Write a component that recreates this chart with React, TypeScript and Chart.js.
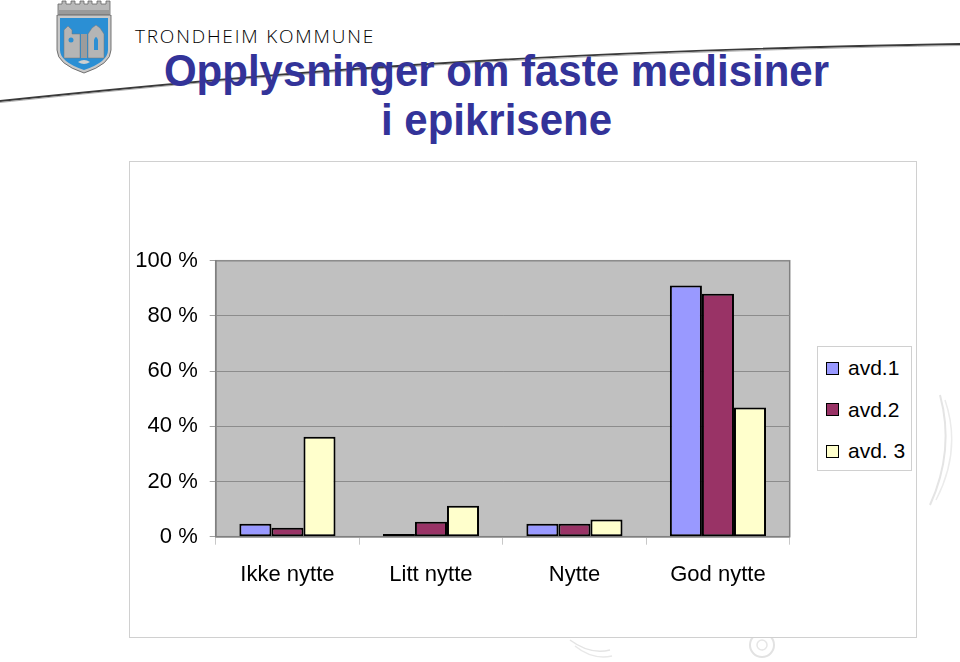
import React, { useEffect, useRef } from "react";
import { Chart, registerables } from "chart.js";

Chart.register(...registerables);

const categories = ["Ikke nytte", "Litt nytte", "Nytte", "God nytte"];
const seriesNames = ["avd.1", "avd.2", "avd. 3"];
const avd1 = [4.7, 1.0, 4.7, 91];
const avd2 = [3.2, 5.4, 4.7, 88];
const avd3 = [36.2, 11.2, 6.2, 46.8];
const yTicks = [0, 20, 40, 60, 80, 100];
const seriesColors = ["#9999FF", "#993366", "#FFFFCC"];

const FONT = '"Liberation Sans", Arial, Helvetica, sans-serif';

const plotBg = {
  id: "plotBg",
  beforeDraw(chart: any) {
    const { ctx, chartArea } = chart;
    if (!chartArea) return;
    ctx.save();
    ctx.fillStyle = "#C0C0C0";
    ctx.fillRect(chartArea.left, chartArea.top, chartArea.right - chartArea.left, chartArea.bottom - chartArea.top);
    ctx.strokeStyle = "#808080";
    ctx.lineWidth = 1.5;
    ctx.strokeRect(chartArea.left, chartArea.top, chartArea.right - chartArea.left, chartArea.bottom - chartArea.top);
    ctx.restore();
  },
};

function BarChart() {
  const ref = useRef<HTMLCanvasElement | null>(null);
  useEffect(() => {
    if (!ref.current) return;
    const series = [avd1, avd2, avd3];
    const chart = new Chart(ref.current, {
      type: "bar",
      data: {
        labels: categories,
        datasets: seriesNames.map((name, i) => ({
          label: name,
          data: series[i],
          backgroundColor: seriesColors[i],
          borderColor: "#000000",
          borderWidth: 2,
          borderSkipped: false,
          barPercentage: 1,
          categoryPercentage: 0.67,
        })),
      },
      options: {
        animation: false,
        responsive: false,
        maintainAspectRatio: false,
        layout: { padding: { top: 98.7, right: 126.3, left: 0, bottom: 0 } },
        plugins: {
          legend: { display: false },
          title: { display: false },
          tooltip: { enabled: false },
        },
        scales: {
          x: {
            grid: {
              display: true,
              offset: true,
              drawOnChartArea: false,
              drawTicks: true,
              tickLength: 8,
              tickColor: "#C8C8C8",
              lineWidth: 1,
            },
            border: { display: true, color: "#808080", width: 1.5 },
            ticks: {
              color: "#000000",
              font: { family: FONT, size: 22 },
              padding: 17,
              maxRotation: 0,
            },
            afterFit(scale: any) {
              scale.height = 100.3;
            },
          },
          y: {
            min: 0,
            max: 100,
            afterBuildTicks(scale: any) {
              scale.ticks = yTicks.map((v) => ({ value: v }));
            },
            grid: {
              color: "#8C8C8C",
              tickColor: "#A0A0A0",
              tickLength: 6,
              lineWidth: 1,
            },
            border: { display: true, color: "#808080", width: 1.5 },
            ticks: {
              color: "#000000",
              font: { family: FONT, size: 22 },
              padding: 12,
              callback: (v: any) => `${v} %`,
            },
            afterFit(scale: any) {
              scale.width = 85.7;
            },
          },
        },
      },
      plugins: [plotBg],
    });
    return () => chart.destroy();
  }, []);
  return <canvas ref={ref} width={786} height={475} style={{ position: "absolute", left: 0, top: 0, width: 786, height: 475 }} />;
}

function Logo() {
  return (
    <svg width="60" height="74" viewBox="0 0 60 74" style={{ position: "absolute", left: 54, top: 0 }}>
      <path d="M4 14 L4 4 L8 4 L8 1 L12 1 L12 4 L17 4 L17 1 L21 1 L21 4 L26 4 L26 1 L30 1 L30 4 L34 4 L34 1 L38 1 L38 4 L43 4 L43 1 L47 1 L47 4 L52 4 L52 1 L56 1 L56 4 L56 14 Z" fill="#B8B8B8" stroke="#666" strokeWidth="0.8" />
      <rect x="4" y="10" width="52" height="5" fill="#9A9A9A" />
      <path d="M3 15 L57 15 L57 50 Q57 64 30 73 Q3 64 3 50 Z" fill="#C8C8C8" stroke="#555" strokeWidth="0.8" />
      <path d="M6 18 L54 18 L54 50 Q54 62 30 70 Q6 62 6 50 Z" fill="#2B8FD4" />
      <path d="M10 58 L10 30 L14 26 L18 30 L18 34 L26 34 L26 58 Z" fill="#B5B5B5" stroke="#777" strokeWidth="0.5" />
      <path d="M34 58 L34 34 L38 28 L42 25 L46 28 L50 34 L50 58 Z" fill="#B5B5B5" stroke="#777" strokeWidth="0.5" />
      <circle cx="17" cy="40" r="2.5" fill="#2B8FD4" />
      <path d="M40 40 Q42 34 44 40 L44 50 L40 50 Z" fill="#2B8FD4" />
      <path d="M24 62 Q30 58 36 62 Q30 66 24 62 Z" fill="#D0D0D0" />
      <rect x="27" y="34" width="6" height="24" fill="#9C9C9C" />
    </svg>
  );
}

function Legend() {
  return (
    <div
      style={{
        position: "absolute",
        left: 817,
        top: 346,
        width: 95,
        height: 125,
        border: "1px solid #D0D0D0",
        boxSizing: "border-box",
        background: "#FFFFFF",
      }}
    >
      {seriesNames.map((name, i) => (
        <div key={name} style={{ position: "absolute", left: 8, top: 10 + i * 41.5, height: 22, display: "flex", alignItems: "center" }}>
          <div style={{ width: 13, height: 13, background: seriesColors[i], border: "1px solid #000", boxSizing: "border-box" }} />
          <span style={{ marginLeft: 9, fontFamily: FONT, fontSize: 21, color: "#000", lineHeight: "22px" }}>{name}</span>
        </div>
      ))}
    </div>
  );
}

export default function App() {
  return (
    <div style={{ position: "fixed", left: 0, top: 0, width: 960, height: 662, background: "#FFFFFF", overflow: "hidden" }}>
      <svg width="960" height="662" style={{ position: "absolute", left: 0, top: 0 }}>
        <path d="M0 101 C 250 75, 500 52, 960 44" fill="none" stroke="#3A3A3A" strokeWidth="1.8" />
        <path d="M0 102.5 C 250 76.5, 500 53.5, 960 45.5" fill="none" stroke="#9A9A9A" strokeWidth="0.8" />
        <path d="M940 395 Q 955 450 930 505" fill="none" stroke="#E4E4E4" strokeWidth="2" />
        <path d="M945 400 Q 962 450 936 500" fill="none" stroke="#EBEBEB" strokeWidth="1.5" />
        <path d="M570 640 Q 590 655 610 650" fill="none" stroke="#E4E4E4" strokeWidth="1.5" />
        <path d="M575 646 Q 592 660 612 656" fill="none" stroke="#E8E8E8" strokeWidth="1.5" />
        <circle cx="762" cy="645" r="12" fill="none" stroke="#E2E2E2" strokeWidth="2" />
        <circle cx="762" cy="645" r="5" fill="none" stroke="#E6E6E6" strokeWidth="1.5" />
      </svg>

      <Logo />
      <div
        style={{
          position: "absolute",
          left: 135,
          top: 24,
          fontFamily: '"Open Sans", "Noto Sans", sans-serif',
          fontWeight: 300,
          fontSize: 19,
          letterSpacing: 1.8,
          color: "#000000",
          lineHeight: "24px",
          whiteSpace: "nowrap",
        }}
      >
        TRONDHEIM KOMMUNE
      </div>

      <div
        style={{
          position: "absolute",
          left: 0,
          width: 993,
          top: 47,
          textAlign: "center",
          fontFamily: FONT,
          fontWeight: "bold",
          fontSize: 42,
          lineHeight: "46px",
          color: "#333399",
          whiteSpace: "nowrap",
          transform: "scaleY(1.06)",
          transformOrigin: "50% 0",
        }}
      >
        <div>Opplysninger om faste medisiner</div>
        <div>i epikrisene</div>
      </div>

      <div
        style={{
          position: "absolute",
          left: 129,
          top: 161,
          width: 788,
          height: 477,
          border: "1px solid #D0D0D0",
          boxSizing: "border-box",
          background: "#FFFFFF",
        }}
      >
        <BarChart />
      </div>
      <Legend />
    </div>
  );
}
